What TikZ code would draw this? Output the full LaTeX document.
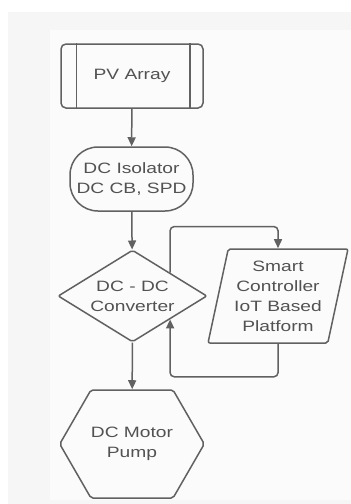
\documentclass[tikz,border=0pt]{standalone}
\usepackage{fontspec}
\setmainfont{Liberation Sans}[FakeStretch=1.28]
\usepackage{tikz}
\usetikzlibrary{arrows.meta, shapes.geometric, shapes.symbols}
\definecolor{lineGray}{gray}{0.38}
\definecolor{textGray}{gray}{0.32}
\definecolor{panelGray}{gray}{0.965}

\tikzset{
    block/.style={draw=lineGray, line width=1.5pt, text=textGray, align=center,
        font=\fontsize{15}{20}\selectfont, inner sep=0pt, rounded corners=2pt},
    wire/.style={draw=lineGray, line width=1.5pt},
}

\begin{document}
\begin{tikzpicture}[x=1pt, y=-1pt, >={Triangle[length=9pt, width=8pt]}]
    \useasboundingbox (0,0) rectangle (351,504);
    \fill[panelGray] (8,12) rectangle (351,504);
    \fill[white!55!panelGray] (50,30) rectangle (351,500);

    % flow column
    \node[block, rectangle, rounded corners=5pt, minimum width=142pt, minimum height=64pt] (pv) at (132,76) {PV Array};
    \draw[wire] ([xshift=16pt]pv.north west) -- ([xshift=16pt]pv.south west);
    \draw[wire] ([xshift=-14pt]pv.north east) -- ([xshift=-14pt]pv.south east);
    \node[block, rectangle, rounded corners=28pt, minimum width=123pt, minimum height=64pt] (iso) at (131.5,179) {DC Isolator\\DC CB, SPD};
    \node[block, diamond, aspect=1.62, minimum width=149pt, minimum height=92pt] (conv) at (132.5,296) {DC - DC\\Converter};
    \node[block, signal, signal to=east and west, signal pointer angle=120, minimum width=140pt, minimum height=108pt] (pump) at (132,444) {DC Motor\\Pump};

    % controller
    \node[block, trapezium, trapezium left angle=74, trapezium right angle=106, trapezium stretches body=true,
        minimum width=140pt, minimum height=94pt] (smart) at (278,296) {Smart\\Controller\\IoT Based\\Platform};

    \draw[->, wire] (pv) -- (iso);
    \draw[->, wire] (iso) -- (conv);
    \draw[->, wire] (conv) -- (pump);
    \draw[->, wire, rounded corners=4pt] (conv.north east) -- ++(0,-46) -| (smart.north);
    \draw[->, wire, rounded corners=4pt] (smart.south) -- ++(0,33) -| (conv.south east);
\end{tikzpicture}
\end{document}
